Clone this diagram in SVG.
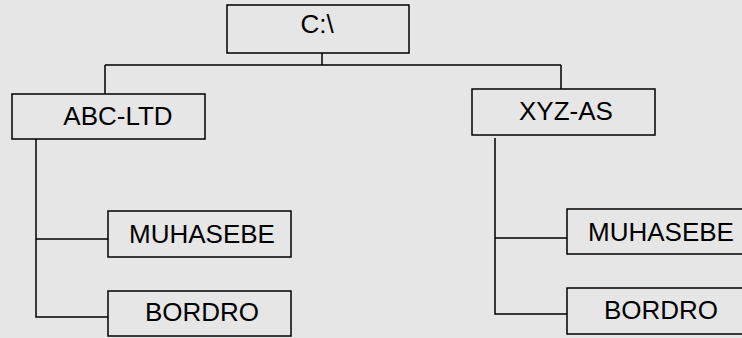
<svg xmlns="http://www.w3.org/2000/svg" width="742" height="338" viewBox="0 0 742 338">
<style>
.box{fill:none;stroke:#000;stroke-width:1.5}
.lbl{font-family:"Liberation Sans",Arial,sans-serif;font-size:26px;fill:#000;text-anchor:middle}
.con{fill:none;stroke:#000;stroke-width:1.5}
</style>
<rect width="742" height="338" fill="#e6e6e6"/>
<g id="connectors">
<path class="con" d="M322 53V65M105 65H561M105 65V94M561 65V89"/>
<path class="con" d="M36 139V317H108M36 239H108"/>
<path class="con" d="M495 138V314H567M495 238H567"/>
</g>
<g id="root"><rect class="box" x="227" y="5" width="182" height="48"/><text class="lbl" x="317" y="33">C:\</text></g>
<g id="abc"><rect class="box" x="12" y="94" width="193" height="45"/><text class="lbl" x="118" y="125">ABC-LTD</text></g>
<g id="xyz"><rect class="box" x="472" y="89" width="183" height="46"/><text class="lbl" x="566" y="120">XYZ-AS</text></g>
<g id="abc-muh"><rect class="box" x="108" y="211" width="183" height="46"/><text class="lbl" x="202" y="243">MUHASEBE</text></g>
<g id="abc-bor"><rect class="box" x="108" y="291" width="183" height="45"/><text class="lbl" x="202" y="321">BORDRO</text></g>
<g id="xyz-muh"><rect class="box" x="567" y="209" width="183" height="45"/><text class="lbl" x="661" y="241">MUHASEBE</text></g>
<g id="xyz-bor"><rect class="box" x="567" y="288" width="183" height="46"/><text class="lbl" x="661" y="319">BORDRO</text></g>
</svg>
